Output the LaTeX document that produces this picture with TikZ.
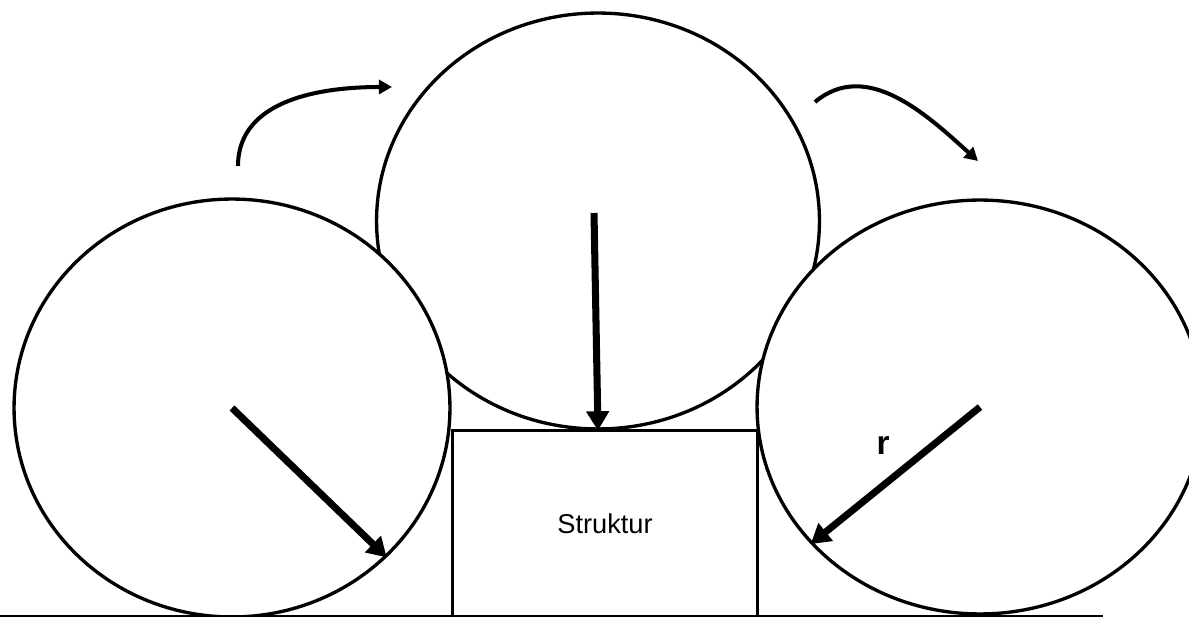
\documentclass[tikz,border=0pt]{standalone}
\usepackage{fontspec}
\setmainfont{Liberation Sans}
\usepackage{tikz}
\usetikzlibrary{shapes.geometric,arrows.meta,positioning,calc}

\tikzset{
  wheel/.style={draw=black, fill=white, ellipse, line width=1.9pt, inner sep=0pt},
  radius arrow/.style={line width=4pt, -{Triangle[length=11pt,width=12.5pt]}},
  turn arrow/.style={line width=2.3pt, -{Triangle[length=7.5pt,width=8pt]}},
  block/.style={inner sep=0pt, minimum width=6.08cm, minimum height=3.72cm,
    font=\fontsize{15.5}{18}\selectfont}
}

\begin{document}
\begin{tikzpicture}[x=0.02cm, y=-0.02cm]
      \useasboundingbox (0,0) rectangle (1189,617);

      % middle one lies behind the outer two
      \node[wheel, minimum width=8.86cm, minimum height=8.32cm] (midwheel) at (598,221) {};
      \node[wheel, minimum width=8.72cm, minimum height=8.36cm] (leftwheel) at (232,408) {};
      \node[wheel, minimum width=8.92cm, minimum height=8.28cm] (rightwheel) at (980,407) {};

      \node[block] (struktur) at (605,524) {Struktur};
      \draw[line width=1.7pt] (struktur.south west) -- (struktur.north west)
        -- (struktur.north east) -- (struktur.south east);

      \coordinate (groundW) at (0,616);
      \coordinate (groundE) at (1103,616);
      \draw[line width=0.8pt] (groundW) -- (groundE);

      \coordinate (midstart) at (594,213);
      \draw[radius arrow] (leftwheel.center) -- (leftwheel.-44);
      \draw[radius arrow] (midstart) -- (midwheel.south);
      \draw[radius arrow] (rightwheel.center) -- (rightwheel.219);
      \node[font=\fontsize{19}{22}\selectfont\bfseries] (rlabel) at (883,446) {r};

      \coordinate (turnAstart) at (238,166);
      \coordinate (turnAend) at (392,87);
      \coordinate (turnBstart) at (815,102);
      \coordinate (turnBend) at (978,161);
      \draw[turn arrow] (turnAstart) to[out=90, in=180] (turnAend);
      \draw[turn arrow] (turnBstart) to[out=40, in=138] (turnBend);
    \end{tikzpicture}
\end{document}
